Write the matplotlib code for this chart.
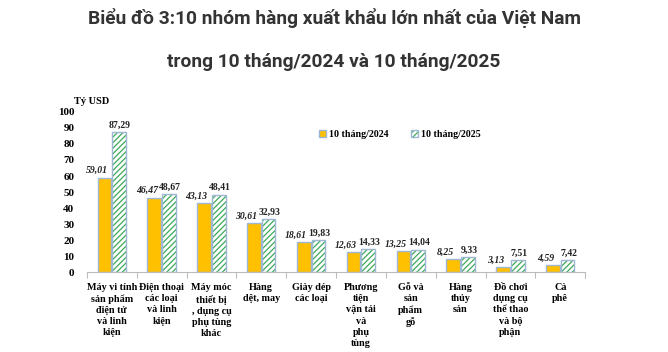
import matplotlib
matplotlib.use("Agg")
import matplotlib.pyplot as plt
import numpy as np

categories = [
    "Máy vi tính\nsản phẩm\nđiện tử\nvà linh\nkiện",
    "Điện thoại\ncác loại\nvà linh\nkiện",
    "Máy móc\nthiết bị\n, dụng cụ\nphụ tùng\nkhác",
    "Hàng\ndệt, may",
    "Giày dép\ncác loại",
    "Phương\ntiện\nvận tải\nvà\nphụ\ntùng",
    "Gỗ và\nsản\nphẩm\ngỗ",
    "Hàng\nthủy\nsản",
    "Đồ chơi\ndụng cụ\nthể thao\nvà bộ\nphận",
    "Cà\nphê",
]
v2024 = [59.01, 46.47, 43.13, 30.61, 18.61, 12.63, 13.25, 8.25, 3.13, 4.59]
v2025 = [87.29, 48.67, 48.41, 32.93, 19.83, 14.33, 14.04, 9.33, 7.51, 7.42]
series_labels = ["10 tháng/2024", "10 tháng/2025"]
yticks = list(range(0, 101, 10))

serif = "Liberation Serif"
plt.rcParams['hatch.linewidth'] = 0.9
plt.rcParams['hatch.color'] = "#3BAA5A"
fig = plt.figure(figsize=(6.68, 3.52), dpi=100)
ax = fig.add_axes([0.130, 0.227, 0.746, 0.455])

x = np.arange(len(categories))
w = 0.275
edge = "#9DB7D5"
b1 = ax.bar(x - w/2 - 0.01, v2024, w, color="#FFC000", edgecolor=edge, linewidth=1.0,
            label=series_labels[0])
b2 = ax.bar(x + w/2 + 0.01, v2025, w, color="white", edgecolor=edge, linewidth=1.0,
            hatch="//////", label=series_labels[1])
for r in b2:
    r._hatch_color = matplotlib.colors.to_rgba("#3BAA5A")

def fmt(v):
    return f"{v:.2f}".replace(".", ",")

for xi, v in zip(x, v2024):
    ax.text(xi - w/2 - 0.16, v + 1.5, fmt(v), ha="center", va="bottom",
            fontfamily=serif, fontweight="bold", fontstyle="italic", fontsize=7.0, color="#222222")
for xi, v in zip(x, v2025):
    ax.text(xi + w/2 + 0.03, v + 1.5, fmt(v), ha="center", va="bottom",
            fontfamily=serif, fontweight="bold", fontsize=7.0, color="#222222")

ax.set_xlim(-0.5, len(categories) - 0.5)
ax.set_ylim(0, 100)
ax.set_yticks(yticks)
ax.set_yticklabels([str(t) for t in yticks], fontfamily=serif, fontweight="bold", fontsize=8)
ax.tick_params(axis="y", length=0, pad=9)
ax.set_xticks(x)
ax.set_xticklabels(categories, fontfamily=serif, fontweight="bold", fontsize=7.3,
                   va="top", linespacing=1.3)
ax.set_xticks(np.arange(len(categories) + 1) - 0.5, minor=True)
ax.tick_params(axis="x", which="major", length=0, pad=8)
ax.tick_params(axis="x", which="minor", length=4, color="#BBBBBB", width=0.8)
for s in ["top", "right", "left"]:
    ax.spines[s].set_visible(False)
ax.spines["bottom"].set_color("#BBBBBB")
ax.spines["bottom"].set_linewidth(0.8)

ax.text(0.01, 1.035, "Tỷ USD", transform=ax.transAxes, ha="center", va="bottom",
        fontfamily=serif, fontweight="bold", fontsize=7.5)

leg = ax.legend(loc="center left", bbox_to_anchor=(0.465, 0.862), ncol=2, frameon=False,
                prop={"family": serif, "weight": "bold", "size": 7.2},
                handlelength=0.7, handleheight=0.7, handletextpad=0.3, columnspacing=2.3,
                borderpad=0, borderaxespad=0)

fig.text(0.5, 0.948, "Biểu đồ 3:10 nhóm hàng xuất khẩu lớn nhất của Việt Nam",
         ha="center", va="center", fontfamily="Roboto", fontweight="bold", fontsize=13.8, color="#333333")
fig.text(0.5, 0.823, "trong 10 tháng/2024 và 10 tháng/2025",
         ha="center", va="center", fontfamily="Roboto", fontweight="bold", fontsize=13.8, color="#333333")

fig.savefig("out.png", dpi=100)
